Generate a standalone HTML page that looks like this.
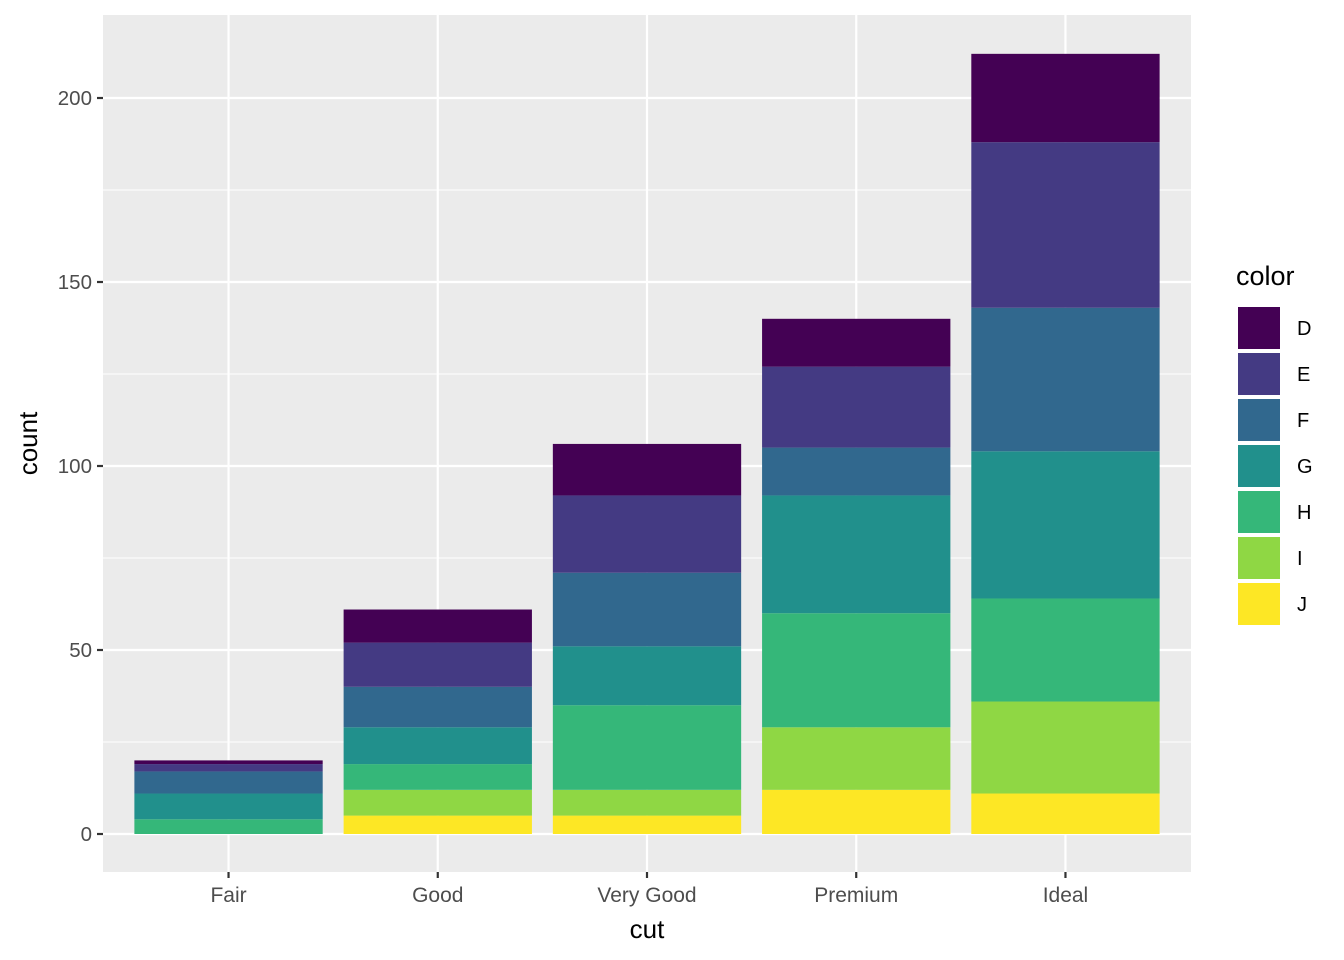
<!DOCTYPE html>
<html><head><meta charset="utf-8"><style>
html,body{margin:0;padding:0;background:#fff;}
svg{display:block;font-family:"Liberation Sans",sans-serif;}
</style></head><body>
<svg id="chart" width="1344" height="960"></svg>
<script>
const categories = ["Fair","Good","Very Good","Premium","Ideal"];
const colorLevels = ["D","E","F","G","H","I","J"];
const seriesD = [1,9,14,13,24];
const seriesE = [2,12,21,22,45];
const seriesF = [6,11,20,13,39];
const seriesG = [7,10,16,32,40];
const seriesH = [4,7,23,31,28];
const seriesI = [0,7,7,17,25];
const seriesJ = [0,5,5,12,11];
const yTicks = [0,50,100,150,200];
const yMinor = [25,75,125,175];

const series = [seriesD,seriesE,seriesF,seriesG,seriesH,seriesI,seriesJ];
const palette = ["#440154","#443A83","#31688E","#21908C","#35B779","#8FD744","#FDE725"];
const NS = "http://www.w3.org/2000/svg";
const svg = document.getElementById("chart");
const P = {l:103, r:1191, t:15, b:872};
const y = v => 834 - v * 3.68;
const step = (P.r - P.l) / (categories.length + 0.2);
const x = i => P.l + step * (i + 0.6);
const bw = step * 0.9;
function mk(tag, attrs, parent){
  const e = document.createElementNS(NS, tag);
  for (const k in attrs) e.setAttribute(k, attrs[k]);
  (parent||svg).appendChild(e);
  return e;
}
const panel = mk("rect",{x:P.l,y:P.t,width:P.r-P.l,height:P.b-P.t,fill:"#EBEBEB"});


yMinor.forEach(v=>{
  const g = mk("line",{x1:P.l,x2:P.r,y1:y(v),y2:y(v),stroke:"#fff","stroke-width":1.1});
  
  
});
yTicks.forEach(v=>{
  const g = mk("line",{x1:P.l,x2:P.r,y1:y(v),y2:y(v),stroke:"#fff","stroke-width":2.2});
  
  
  const t = mk("line",{x1:P.l-6,x2:P.l,y1:y(v),y2:y(v),stroke:"#333","stroke-width":2.2});
  
  
  const lb = mk("text",{x:P.l-11,y:y(v)+7,"text-anchor":"end","font-size":20.5,fill:"#4D4D4D"});
  lb.textContent = v;
  
  
});
categories.forEach((c,i)=>{
  const g = mk("line",{x1:x(i),x2:x(i),y1:P.t,y2:P.b,stroke:"#fff","stroke-width":2.2});
  
  
  const t = mk("line",{x1:x(i),x2:x(i),y1:P.b,y2:P.b+6,stroke:"#333","stroke-width":2.2});
  
  
  const lb = mk("text",{x:x(i),y:P.b+30,"text-anchor":"middle","font-size":21,fill:"#4D4D4D"});
  lb.textContent = c;
  
  
});
categories.forEach((c,i)=>{
  let cum = 0;
  for (let s = series.length-1; s >= 0; s--){
    const v = series[s][i];
    if (v > 0){
      const r = mk("rect",{x:x(i)-bw/2,y:y(cum+v),width:bw,height:y(cum)-y(cum+v),fill:palette[s]});
      
      
    }
    cum += v;
  }
});
const xt = mk("text",{x:(P.l+P.r)/2,y:938,"text-anchor":"middle","font-size":26,fill:"#000"});
xt.textContent = "cut";


const yt = mk("text",{x:0,y:0,"text-anchor":"middle","font-size":26,fill:"#000",transform:"translate(37,"+((P.t+P.b)/2)+") rotate(-90)"});
yt.textContent = "count";


const lt = mk("text",{x:1236,y:285,"font-size":27,fill:"#000"});
lt.textContent = "color";


colorLevels.forEach((lv,k)=>{
  const ky = 305 + k*46;
  const bg = mk("rect",{x:1236,y:ky,width:46,height:46,fill:"#fff"});
  
  
  const sw = mk("rect",{x:1238,y:ky+2,width:42,height:42,fill:palette[k]});
  
  
  const tl = mk("text",{x:1297,y:ky+30,"font-size":20,fill:"#000"});
  tl.textContent = lv;
  
  
});
</script>
</body></html>
